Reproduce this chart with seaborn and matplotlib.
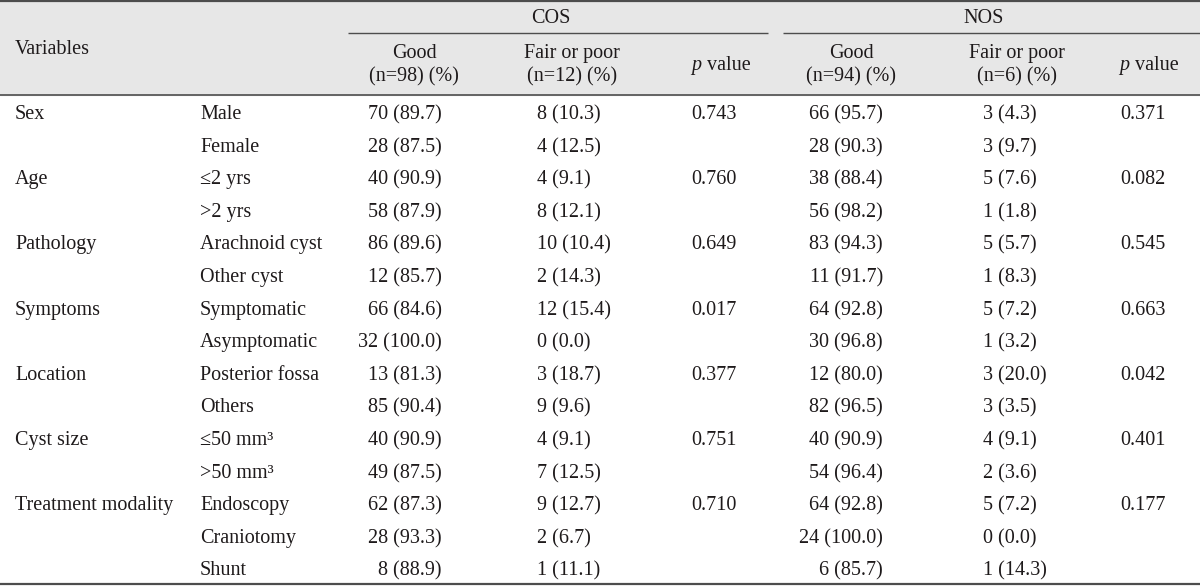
"""
Outcome table (COS / NOS) redrawn with seaborn + matplotlib text
"""

import pandas as pd
import seaborn as sns
import matplotlib.pyplot as plt

# -------------------------------
# Data
# -------------------------------
variables = ["Sex", "", "Age", "", "Pathology", "", "Symptoms", "", "Location", "",
             "Cyst size", "", "Treatment modality", "", ""]
subgroups = ["Male", "Female", "≤2 yrs", ">2 yrs", "Arachnoid cyst", "Other cyst",
             "Symptomatic", "Asymptomatic", "Posterior fossa", "Others",
             "≤50 mm³", ">50 mm³", "Endoscopy", "Craniotomy", "Shunt"]
cos_good = ["70 (89.7)", "28 (87.5)", "40 (90.9)", "58 (87.9)", "86 (89.6)", "12 (85.7)",
            "66 (84.6)", "32 (100.0)", "13 (81.3)", "85 (90.4)", "40 (90.9)", "49 (87.5)",
            "62 (87.3)", "28 (93.3)", "8 (88.9)"]
cos_poor = ["8 (10.3)", "4 (12.5)", "4 (9.1)", "8 (12.1)", "10 (10.4)", "2 (14.3)",
            "12 (15.4)", "0 (0.0)", "3 (18.7)", "9 (9.6)", "4 (9.1)", "7 (12.5)",
            "9 (12.7)", "2 (6.7)", "1 (11.1)"]
cos_p = ["0.743", "", "0.760", "", "0.649", "", "0.017", "", "0.377", "",
         "0.751", "", "0.710", "", ""]
nos_good = ["66 (95.7)", "28 (90.3)", "38 (88.4)", "56 (98.2)", "83 (94.3)", "11 (91.7)",
            "64 (92.8)", "30 (96.8)", "12 (80.0)", "82 (96.5)", "40 (90.9)", "54 (96.4)",
            "64 (92.8)", "24 (100.0)", "6 (85.7)"]
nos_poor = ["3 (4.3)", "3 (9.7)", "5 (7.6)", "1 (1.8)", "5 (5.7)", "1 (8.3)",
            "5 (7.2)", "1 (3.2)", "3 (20.0)", "3 (3.5)", "4 (9.1)", "2 (3.6)",
            "5 (7.2)", "0 (0.0)", "1 (14.3)"]
nos_p = ["0.371", "", "0.082", "", "0.545", "", "0.663", "", "0.042", "",
         "0.401", "", "0.177", "", ""]

groups = ["COS", "NOS"]
sub_headers = [("Good", "(n=98) (%)"), ("Fair or poor", "(n=12) (%)"),
               ("Good", "(n=94) (%)"), ("Fair or poor", "(n=6) (%)")]

table = pd.DataFrame({
    "variable": variables, "subgroup": subgroups,
    "cos_good": cos_good, "cos_poor": cos_poor, "cos_p": cos_p,
    "nos_good": nos_good, "nos_poor": nos_poor, "nos_p": nos_p,
})

# -------------------------------
# Layout
# -------------------------------
sns.set_theme(style="white")
plt.rcParams["font.family"] = ["Liberation Serif", "DejaVu Serif"]
FS = 14.5
INK = "#1e1a1b"
LINE = "#4d4d4d"
BASE = 6  # baseline offset below the visual centre of a line

# column anchor (x, horizontal alignment)
cols = {
    "variable": (15, "left"),
    "subgroup": (200, "left"),
    "cos_good": (442, "right"),
    "cos_poor": (537, "left"),
    "cos_p": (714, "center"),
    "nos_good": (883, "right"),
    "nos_poor": (983, "left"),
    "nos_p": (1143, "center"),
}
header_centres = [414, 572, 851, 1017]
p_centres = [716, 1144]
group_spans = [(348, 768), (783, 1200)]

row0, row_step = 113, 32.6

fig = plt.figure(figsize=(12, 5.86), dpi=100)
ax = fig.add_axes([0, 0, 1, 1])
ax.set_xlim(0, 1200)
ax.set_ylim(586, 0)
ax.axis("off")


def put(x, y, s, ha, **kw):
    ax.text(x, round(y) + BASE, s, ha=ha, va="baseline", fontsize=FS, color=INK, **kw)


# header band and rules
ax.axhspan(0, 95, color="#e7e7e7", zorder=0)
ax.axhline(1, color=LINE, lw=1.6)
ax.axhline(95, color=LINE, lw=1.2)
ax.axhline(584, color=LINE, lw=1.6)
for (x0, x1), name in zip(group_spans, groups):
    ax.hlines(33, x0, x1, color=LINE, lw=1.0)
    put((x0 + x1 - 15) / 2, 17, name, "center")

put(15, 48, "Variables", "left")
for xc, (top, bottom) in zip(header_centres, sub_headers):
    put(xc, 52, top, "center")
    put(xc, 75, bottom, "center")
for xc in p_centres:
    put(xc - 25, 64, "p", "left", style="italic")
    put(xc - 9, 64, "value", "left")

# body
for i, row in table.iterrows():
    y = row0 + i * row_step
    for col, (x, ha) in cols.items():
        if row[col]:
            put(x, y, row[col], ha)

plt.savefig("out.png", dpi=100)
plt.close()
